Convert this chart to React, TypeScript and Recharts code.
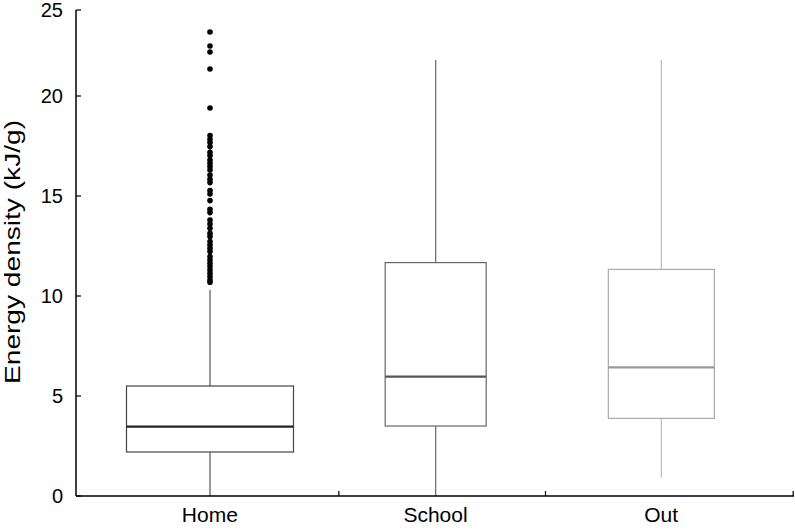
import React from 'react';
import { Bar, ComposedChart, XAxis, YAxis } from 'recharts';

// 箱ひげ図の値
const categories = ['Home', 'School', 'Out'];
const lowerWhisker = [0, 0, 0.93];
const q1 = [2.2, 3.5, 3.88];
const median = [3.47, 5.97, 6.43];
const q3 = [5.5, 11.67, 11.33];
const upperWhisker = [10.3, 21.8, 21.8];
const homeOutliers = [
  23.2, 22.5, 22.2, 21.35, 19.4, 18.02, 17.84, 17.67, 17.47, 17.19, 17.02,
  16.8, 16.64, 16.47, 16.3, 16.05, 15.84, 15.67, 15.27, 15.1, 14.77, 14.34,
  14.17, 13.8, 13.6, 13.39, 13.14, 12.97, 12.72, 12.55, 12.39, 12.22, 11.97,
  11.8, 11.64, 11.47, 11.3, 11.14, 10.97, 10.8, 10.69,
];
const outliers = [homeOutliers, [], []];

// y軸：上端の目盛りは軸の端に "25" と表示されている
const yTicks = [0, 5, 10, 15, 20, 24.3];
const yTickLabels = ['0', '5', '10', '15', '20', '25'];

const data = categories.map((name, i) => ({
  name,
  min: lowerWhisker[i],
  q1: q1[i],
  median: median[i],
  q3: q3[i],
  max: upperWhisker[i],
  outliers: outliers[i],
}));

// 見た目（箱の幅と色）
const boxStyles = [
  { width: 167, box: '#444', median: '#222', whisker: '#555' },
  { width: 101, box: '#666', median: '#555', whisker: '#666' },
  { width: 106, box: '#aaa', median: '#999', whisker: '#bbb' },
];
const xTickMarkOffsets = [129, 110, 132];
const FONT = '"Liberation Sans", Arial, Helvetica, sans-serif';

const BoxShape = (props: any) => {
  const { x, y, width, height, index, payload } = props;
  const d = payload;
  const s = boxStyles[index];
  const k = height / (d.q3 - d.q1); // 1単位あたりのピクセル
  const toY = (v: number) => y + (d.q3 - v) * k;
  const cx = x + width / 2;
  const left = cx - s.width / 2;
  return (
    <g>
      <line x1={cx} x2={cx} y1={toY(d.max)} y2={toY(d.q3)} stroke={s.whisker} strokeWidth={1.2} />
      <line x1={cx} x2={cx} y1={toY(d.q1)} y2={toY(d.min)} stroke={s.whisker} strokeWidth={1.2} />
      <rect x={left} y={toY(d.q3)} width={s.width} height={height} fill="#fff" stroke={s.box} strokeWidth={1.2} />
      <line x1={left} x2={left + s.width} y1={toY(d.median)} y2={toY(d.median)} stroke={s.median} strokeWidth={2.2} />
      {d.outliers.map((v: number, i: number) => (
        <circle key={i} cx={cx} cy={toY(v)} r={2.8} fill="#000" />
      ))}
    </g>
  );
};

const XTick = (props: any) => {
  const { x, y, payload, index } = props;
  const tx = x + xTickMarkOffsets[index];
  return (
    <g>
      <line x1={tx} x2={tx} y1={y} y2={y - 5} stroke="#000" strokeWidth={1.2} />
      <text x={x} y={y + 26} textAnchor="middle" fontSize={21} fontFamily={FONT} fill="#000">
        {payload.value}
      </text>
    </g>
  );
};

const YTick = (props: any) => {
  const { x, y, index } = props;
  return (
    <g>
      <line x1={x} x2={x + 5} y1={y} y2={y} stroke="#000" strokeWidth={1.2} />
      <text x={x - 13} y={y} dy="0.36em" textAnchor="end" fontSize={20} fontFamily={FONT} fill="#000">
        {yTickLabels[index]}
      </text>
    </g>
  );
};

export default function App() {
  return (
    <div style={{ position: 'absolute', left: 0, top: 0, background: '#fff' }}>
      <ComposedChart
        width={795}
        height={530}
        data={data}
        margin={{ top: 10, right: 1, left: 0, bottom: 0 }}
      >
        <XAxis
          dataKey="name"
          padding={{ left: 21, right: 20 }}
          axisLine={{ stroke: '#000', strokeWidth: 1.5 }}
          tickLine={false}
          tickSize={0}
          tickMargin={0}
          interval={0}
          height={34}
          tick={<XTick />}
        />
        <YAxis
          type="number"
          domain={[0, 24.3]}
          allowDataOverflow
          ticks={yTicks}
          width={76}
          axisLine={{ stroke: '#000', strokeWidth: 1.5 }}
          tickLine={false}
          tickSize={0}
          tickMargin={0}
          tick={<YTick />}
          label={{
            content: () => (
              <text
                x={0}
                y={0}
                transform="translate(20, 252) rotate(-90)"
                textAnchor="middle"
                fontSize={22}
                textLength={264}
                lengthAdjust="spacingAndGlyphs"
                fontFamily={FONT}
                fill="#000"
              >
                Energy density (kJ/g)
              </text>
            ),
          }}
        />
        <Bar
          dataKey={(d: any) => [d.q1, d.q3]}
          barSize={100}
          shape={BoxShape}
          isAnimationActive={false}
        />
      </ComposedChart>
    </div>
  );
}
